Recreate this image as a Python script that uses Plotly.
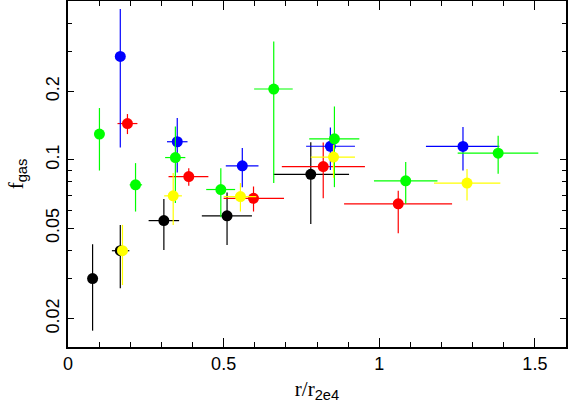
import plotly.graph_objects as go

# ---- data ----
black_x   = [0.079, 0.168, 0.308, 0.511, 0.780]
black_y   = [0.0300, 0.0398, 0.0540, 0.0567, 0.0863]
black_xlo = [0.079, 0.141, 0.259, 0.430, 0.660]
black_xhi = [0.079, 0.197, 0.357, 0.591, 0.903]
black_ylo = [0.0177, 0.0272, 0.0401, 0.0422, 0.0522]
black_yhi = [0.0425, 0.0517, 0.0673, 0.0718, 0.1195]

red_x   = [0.191, 0.388, 0.596, 0.820, 1.061]
red_y   = [0.1444, 0.0844, 0.0677, 0.0934, 0.0640]
red_xlo = [0.159, 0.323, 0.500, 0.687, 0.887]
red_xhi = [0.223, 0.451, 0.694, 0.954, 1.234]
red_ylo = [0.1298, 0.0768, 0.0592, 0.0678, 0.0475]
red_yhi = [0.1590, 0.0919, 0.0763, 0.1192, 0.0730]

blue_x   = [0.168, 0.351, 0.560, 0.843, 1.269]
blue_y   = [0.2851, 0.1201, 0.0941, 0.1147, 0.1145]
blue_xlo = [0.168, 0.318, 0.507, 0.765, 1.150]
blue_xhi = [0.168, 0.384, 0.612, 0.922, 1.386]
blue_ylo = [0.1133, 0.0879, 0.0758, 0.0903, 0.0897]
blue_yhi = [0.4610, 0.1527, 0.1126, 0.1388, 0.1393]

green_x   = [0.101, 0.217, 0.345, 0.491, 0.661, 0.856, 1.085, 1.382]
green_y   = [0.1298, 0.0776, 0.1023, 0.0740, 0.2049, 0.1237, 0.0808, 0.1070]
green_xlo = [0.101, 0.198, 0.312, 0.444, 0.598, 0.775, 0.983, 1.252]
green_xhi = [0.101, 0.238, 0.377, 0.537, 0.722, 0.936, 1.187, 1.511]
green_ylo = [0.0897, 0.0592, 0.0645, 0.0559, 0.0790, 0.0758, 0.0640, 0.0868]
green_yhi = [0.1690, 0.0967, 0.1402, 0.0919, 0.3320, 0.1717, 0.0977, 0.1276]

yellow_x   = [0.175, 0.338, 0.554, 0.853, 1.282]
yellow_y   = [0.0398, 0.0694, 0.0689, 0.1028, 0.0790]
yellow_xlo = [0.175, 0.309, 0.500, 0.780, 1.176]
yellow_xhi = [0.175, 0.366, 0.605, 0.922, 1.389]
yellow_ylo = [0.0281, 0.0517, 0.0592, 0.0833, 0.0662]
yellow_yhi = [0.0517, 0.0874, 0.0790, 0.1164, 0.0910]

x_tickvals = [0, 0.5, 1, 1.5]
x_ticktext = ["0", "0.5", "1", "1.5"]
y_tickvals = [0.02, 0.05, 0.1, 0.2]
y_ticktext = ["0.02", "0.05", "0.1", "0.2"]
y_minorvals = [0.03, 0.04, 0.06, 0.07, 0.08, 0.09, 0.3, 0.4]

series = [
    ("black", "#000000", black_x, black_y, black_xlo, black_xhi, black_ylo, black_yhi),
    ("red", "#ff0000", red_x, red_y, red_xlo, red_xhi, red_ylo, red_yhi),
    ("blue", "#0000ff", blue_x, blue_y, blue_xlo, blue_xhi, blue_ylo, blue_yhi),
    ("green", "#00ff00", green_x, green_y, green_xlo, green_xhi, green_ylo, green_yhi),
    ("yellow", "#ffff00", yellow_x, yellow_y, yellow_xlo, yellow_xhi, yellow_ylo, yellow_yhi),
]

fig = go.Figure()
for name, col, x, y, xlo, xhi, ylo, yhi in series:
    fig.add_trace(go.Scatter(
        x=x, y=y, mode="markers", name=name,
        marker=dict(color=col, size=11, line=dict(width=0)),
        error_x=dict(type="data", symmetric=False,
                     array=[h - v for h, v in zip(xhi, x)],
                     arrayminus=[v - l for l, v in zip(xlo, x)],
                     color=col, thickness=1.2, width=0),
        error_y=dict(type="data", symmetric=False,
                     array=[h - v for h, v in zip(yhi, y)],
                     arrayminus=[v - l for l, v in zip(ylo, y)],
                     color=col, thickness=1.2, width=0),
        showlegend=False,
    ))

font = dict(family="Liberation Sans, Arial, sans-serif", size=18, color="black")

fig.update_layout(
    width=568, height=403,
    margin=dict(l=68, r=2, t=1, b=56),
    paper_bgcolor="white", plot_bgcolor="white",
    font=font,
    xaxis=dict(
        range=[0, 1.6], showgrid=False, zeroline=False, automargin=False,
        showline=True, linecolor="black", linewidth=1.5, mirror="allticks",
        ticks="inside", ticklen=9, tickwidth=1.2, tickcolor="black",
        tickmode="array", tickvals=x_tickvals, ticktext=x_ticktext,
        minor=dict(ticks="inside", ticklen=5, tickwidth=1.2, tickcolor="black", dtick=0.1, tick0=0),
        title=dict(text='<span style="font-family:Liberation Serif">r/r</span><sub>2e4</sub>',
                   font=dict(size=21), standoff=9),
    ),
    yaxis=dict(
        type="log", range=[-1.8239, -0.30103], showgrid=False, zeroline=False, automargin=False,
        showline=True, linecolor="black", linewidth=1.5, mirror="allticks",
        ticks="inside", ticklen=6, tickwidth=1.2, tickcolor="black",
        tickmode="array", tickvals=y_tickvals, ticktext=y_ticktext, tickangle=-90,
        minor=dict(ticks="inside", ticklen=4, tickwidth=1.2, tickcolor="black",
                   tickmode="array", tickvals=y_minorvals),
        title=dict(text='<span style="font-family:Liberation Serif">f</span><sub>gas</sub>',
                   font=dict(size=21), standoff=14),
    ),
)

fig.write_html("out.html", config={"displayModeBar": False},
               post_script="document.body.style.margin='0';document.body.style.overflow='hidden';")
